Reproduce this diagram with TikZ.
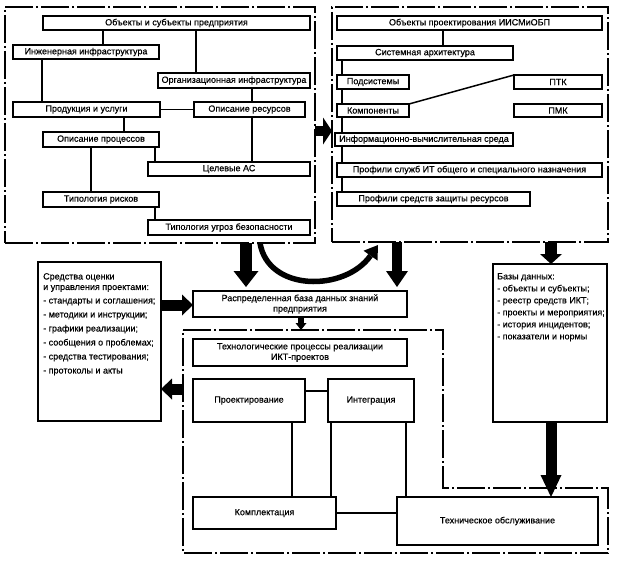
\documentclass[tikz,border=0pt]{standalone}
\usepackage{fontspec}
\setmainfont{Liberation Sans}[FakeBold=0.4]
\usetikzlibrary{arrows.meta}
\newcommand\fsz{\fontsize{9}{10.5}\selectfont}
\begin{document}
\begin{tikzpicture}[x=1pt,y=-1pt,
  box/.style={draw, line width=1.5pt, fill=white, inner sep=0.5pt, outer sep=0pt, anchor=north west, font=\fsz, align=center},
  panel/.style={draw, line width=1.1pt, dash pattern=on 28pt off 3pt on 2pt off 3pt, inner sep=0pt, outer sep=0pt, anchor=north west},
  conn/.style={line width=1.5pt},
  lst/.style={inner sep=0pt, anchor=north west, align=left, font=\fsz},
  blk/.style n args={3}{line width=#1pt, -{Triangle[width=#2pt,length=#3pt,line width=0pt]}}
]
\useasboundingbox (0,0) rectangle (620,567);

% panels
\node[panel, minimum width=310pt, minimum height=236pt] (P1) at (5,7) {};
\node[panel, minimum width=276pt, minimum height=235pt] (P2) at (332,7) {};

% top-left boxes
\node[box, minimum width=267pt, minimum height=14pt] (o1) at (43,16) {Объекты и субъекты предприятия};
\node[box, minimum width=146pt, minimum height=14pt] (o2) at (13,45) {Инженерная инфраструктура};
\node[box, minimum width=152pt, minimum height=15pt] (o3) at (158,73) {Организационная инфраструктура};
\node[box, minimum width=147pt, minimum height=15pt] (o4) at (13,102) {Продукция и услуги};
\node[box, minimum width=111pt, minimum height=15pt] (o5) at (194,102) {Описание ресурсов};
\node[box, minimum width=116pt, minimum height=15pt] (o6) at (43,132) {Описание процессов};
\node[box, minimum width=162pt, minimum height=14pt] (o7) at (148,162) {Целевые АС};
\node[box, minimum width=116pt, minimum height=15pt] (o8) at (43,192) {Типология рисков};
\node[box, minimum width=162pt, minimum height=15pt] (o9) at (148,220) {Типология угроз безопасности};

\draw[conn] (103,0 |- o1.south) -- (103,0 |- o2.north);
\draw[conn] (196,0 |- o1.south) -- (196,0 |- o3.north);
\draw[conn] (42,0 |- o2.south) -- (42,0 |- o4.north);
\draw[conn] (252,0 |- o3.south) -- (252,0 |- o5.north);
\draw[conn] (o4.east) -- (o5.west);
\draw[conn] (124,0 |- o4.south) -- (124,0 |- o6.north);
\draw[conn] (155,0 |- o6.south) -- (155,0 |- o7.north);
\draw[conn] (252,0 |- o5.south) -- (252,0 |- o7.north);
\draw[conn] (91,0 |- o6.south) -- (91,0 |- o8.north);
\draw[conn] (155,0 |- o8.south) -- (155,0 |- o9.north);

% top-right boxes
\node[box, minimum width=265pt, minimum height=14pt] (r1) at (337,16) {Объекты проектирования ИИСМиОБП};
\node[box, minimum width=176pt, minimum height=14pt] (r2) at (337,46) {Системная архитектура};
\node[box, minimum width=72pt, minimum height=14pt] (r3) at (337,75) {Подсистемы};
\node[box, minimum width=88pt, minimum height=14pt] (r4) at (514,75) {ПТК};
\node[box, minimum width=72pt, minimum height=13pt] (r5) at (337,104) {Компоненты};
\node[box, minimum width=88pt, minimum height=13pt] (r6) at (514,104) {ПМК};
\node[box, minimum width=178pt, minimum height=13pt, inner sep=0pt] (r7) at (335,133) {Информационно-вычислительная среда};
\node[box, minimum width=265pt, minimum height=14pt] (r8) at (337,163) {Профили служб ИТ общего и специального назначения};
\node[box, minimum width=193pt, minimum height=14pt] (r9) at (337,192) {Профили средств защиты ресурсов};

\draw[conn] (443,0 |- r1.south) -- (443,0 |- r2.north);
\draw[conn] (342,0 |- r2.south) -- (342,0 |- r3.north);
\draw[conn] (342,0 |- r3.south) -- (342,0 |- r5.north);
\draw[conn] (342,0 |- r5.south) -- (342,0 |- r7.north);
\draw[conn] (342,0 |- r7.south) -- (342,0 |- r8.north);
\draw[conn] (342,0 |- r8.south) -- (342,0 |- r9.north);
\draw[conn] (r5.north east) -- (r4.north west);

% lower part
\node[box, minimum width=123pt, minimum height=159pt] (L) at (38,262) {};
\node[lst] (Lt) at ([xshift=5pt,yshift=-11pt]L.north west) {Средства оценки\\и управления проектами:\\[3pt]- стандарты и соглашения;\\[3.5pt]- методики и инструкции;\\[3.5pt]- графики реализации;\\[3.5pt]- сообщения о проблемах;\\[3.5pt]- средства тестирования;\\[3.5pt]- протоколы и акты};

\node[box, minimum width=114pt, minimum height=158pt] (B) at (493,264) {};
\node[lst] (Bt) at ([xshift=4pt,yshift=-9pt]B.north west) {Базы данных:\\[1.5pt]- объекты и субъекты;\\[1.5pt]- реестр средств ИКТ;\\[1.5pt]- проекты и мероприятия;\\[1.5pt]- история инцидентов;\\[1.5pt]- показатели и нормы};

\node[box, minimum width=214pt, minimum height=26pt, font=\fontsize{9}{10.5}\selectfont] (D) at (193,291) {Распределенная база данных знаний\\предприятия};

% frame
\coordinate (f1) at (183,330);
\coordinate (f2) at (443,330);
\coordinate (f3) at (443,488);
\coordinate (f4) at (608,488);
\coordinate (f5) at (608,553);
\coordinate (f6) at (183,553);
\draw[line width=1.1pt, dash pattern=on 28pt off 3pt on 2pt off 3pt] (f1) -- (f2) -- (f3) -- (f4) -- (f5) -- (f6) -- cycle;

\node[box, minimum width=214pt, minimum height=27pt, font=\fontsize{9}{10.5}\selectfont] (T) at (193,339) {Технологические процессы реализации\\ИКТ-проектов};
\node[box, minimum width=112pt, minimum height=43pt] (P) at (193,379) {Проектирование};
\node[box, minimum width=86pt, minimum height=43pt] (I) at (328,379) {Интеграция};
\node[box, minimum width=143pt, minimum height=32pt] (K) at (193,497) {Комплектация};
\node[box, minimum width=201pt, minimum height=48pt] (M) at (397,497) {Техническое обслуживание};

\draw[conn] (P.east |- 0,391) -- (I.west |- 0,391);
\draw[conn] (292,0 |- P.south) -- (292,0 |- K.north);
\draw[conn] (331,0 |- I.south) -- (331,0 |- K.north);
\draw[conn] (406,0 |- I.south) -- (406,0 |- M.north);
\draw[conn] (K.east) -- (M.west |- K.east);

% block arrows
\draw[blk={10}{27}{9}] (P1.east |- 0,131) -- (P2.west |- 0,131);
\draw[blk={12}{25}{16}, shorten >=4pt] (246,0 |- P1.south) -- (246,0 |- D.north);
\draw[blk={10}{22}{16}, shorten >=4pt] (397,0 |- P2.south) -- (397,0 |- D.north);
\draw[blk={12}{22}{10}] (551,0 |- P2.south) -- (551,0 |- B.north);
\draw[blk={11}{21}{11}] (L.east |- 0,305) -- (D.west |- 0,305);
\draw[blk={11}{21}{11}] (f1 |- 0,389) -- (L.east |- 0,389);
\draw[blk={6}{11}{7}] (301,0 |- D.south) -- (301,0 |- f1);
\draw[blk={11}{21}{22}] (551,0 |- B.south) -- (551,0 |- M.north);

% curved arrow
\coordinate (c1) at (260,0 |- P1.south);
\coordinate (c2) at (378,245);
\draw[line width=5.5pt, -{Triangle[width=17pt,length=13pt,line width=0pt]}] (c1) .. controls (268,292) and (345,292) .. (c2);
\end{tikzpicture}
\end{document}
